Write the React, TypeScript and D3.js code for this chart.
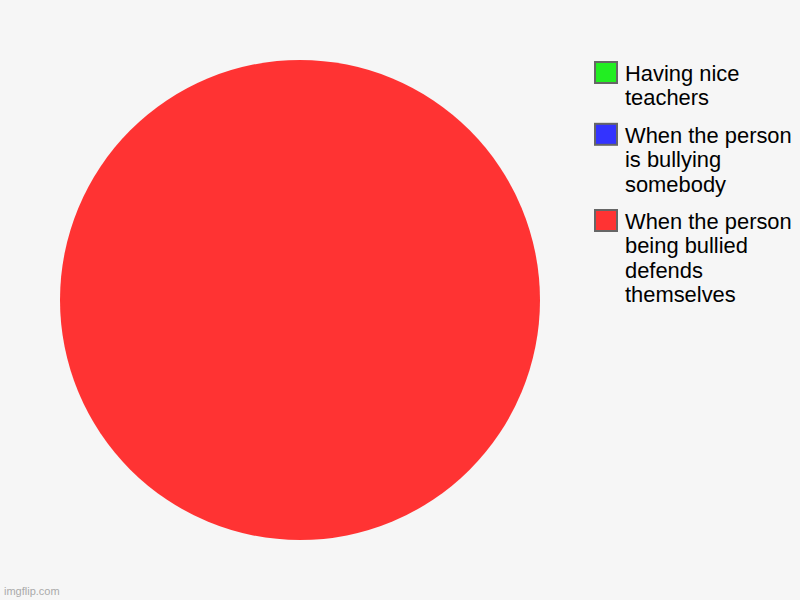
import React, { useEffect } from "react";
import * as d3 from "d3";

const categories = [
  "When the person being bullied defends themselves",
  "When the person is bullying somebody",
  "Having nice teachers",
];
const values = [100, 0, 0];
const colors = ["#ff3333", "#3333ff", "#22ee22"];
const legendLines = [
  ["When the person", "being bullied", "defends", "themselves"],
  ["When the person", "is bullying", "somebody"],
  ["Having nice", "teachers"],
];

const W = 800;
const H = 600;

export default function App() {
  useEffect(() => {
    document.body.style.margin = "0";
  }, []);

  const pie = d3.pie<number>().sort(null).value((d) => d);
  const arcs = pie(values);
  const arc = d3.arc<d3.PieArcDatum<number>>().innerRadius(0).outerRadius(240);

  // legend order: reversed (green on top)
  const order = [2, 1, 0];
  const lineH = 24.4;
  let y = 61;
  const legendItems = order.map((i) => {
    const item = { i, y };
    y += legendLines[i].length * lineH + 13;
    return item;
  });

  return (
    <svg
      width={W}
      height={H}
      style={{ position: "absolute", left: 0, top: 0, display: "block" }}
      fontFamily="'Liberation Sans', Arial, sans-serif"
    >
      <rect width={W} height={H} fill="#f6f6f6" />
      <g transform="translate(300,300)">
        {arcs.map((a, k) => (
          <path key={k} d={arc(a) || ""} fill={colors[k]} />
        ))}
      </g>
      {legendItems.map(({ i, y }) => (
        <g key={i}>
          <rect x={595} y={y + 1} width={22} height={21} fill={colors[i]} stroke="#666" strokeWidth={2} />
          <text x={625} y={y + 20} fontSize={21.9} fill="#000">
            {legendLines[i].map((l, j) => (
              <tspan key={j} x={625} dy={j === 0 ? 0 : lineH}>
                {l}
              </tspan>
            ))}
          </text>
        </g>
      ))}
      <text x={4} y={595} fontSize={11} fill="#aaa">
        imgflip.com
      </text>
    </svg>
  );
}
